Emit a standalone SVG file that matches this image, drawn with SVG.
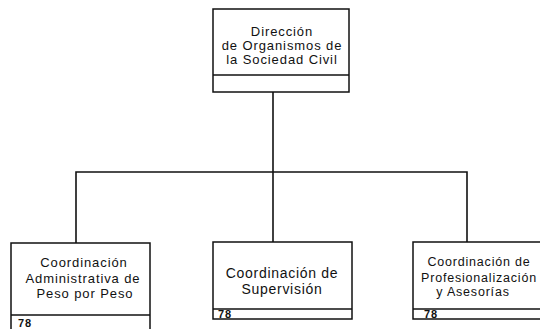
<svg xmlns="http://www.w3.org/2000/svg" width="540" height="329" viewBox="0 0 540 329">
<style>
.box{fill:#fff;stroke:#111;stroke-width:1.5}
.sep{stroke:#111;stroke-width:1.5}
.ln{stroke:#111;stroke-width:1.6;fill:none}
text{font-family:"Liberation Sans",Arial,sans-serif;fill:#111}
.t{font-size:13px;letter-spacing:0.9px;text-anchor:middle}
.m{font-size:14px;letter-spacing:0.7px;text-anchor:middle}
.r{font-size:12.5px;letter-spacing:0.8px;text-anchor:middle}
.n{font-size:11px;font-weight:bold;letter-spacing:1px}
</style>
<rect width="540" height="329" fill="#fff"/>
<g id="connectors">
<line class="ln" x1="273" y1="92" x2="273" y2="242"/>
<polyline class="ln" points="76,243 76,172 467,172 467,242"/>
</g>
<g id="direccion">
<rect class="box" x="213" y="9" width="136" height="83"/>
<line class="sep" x1="213" y1="75" x2="349" y2="75"/>
<text class="t" x="282" y="36">Dirección</text>
<text class="t" x="282" y="50">de Organismos de</text>
<text class="t" x="282" y="64">la Sociedad Civil</text>
</g>
<g id="coord-admin">
<rect class="box" x="11" y="243" width="139" height="92"/>
<line class="sep" x1="11" y1="315" x2="150" y2="315"/>
<text class="t" x="84" y="267">Coordinación</text>
<text class="t" x="83" y="283">Administrativa de</text>
<text class="t" x="85" y="298">Peso por Peso</text>
<text class="n" x="18" y="327">78</text>
</g>
<g id="coord-super">
<rect class="box" x="213" y="242" width="139" height="77"/>
<line class="sep" x1="213" y1="309" x2="352" y2="309"/>
<text class="m" x="282" y="278">Coordinación de</text>
<text class="m" x="282" y="294">Supervisión</text>
<text class="n" x="218" y="318">78</text>
</g>
<g id="coord-prof">
<rect class="box" x="413" y="242" width="140" height="77"/>
<line class="sep" x1="413" y1="309" x2="553" y2="309"/>
<text class="r" x="479" y="266">Coordinación de</text>
<text class="r" x="479" y="282">Profesionalización</text>
<text class="r" x="473" y="296">y Asesorías</text>
<text class="n" x="424" y="318">78</text>
</g>
</svg>
